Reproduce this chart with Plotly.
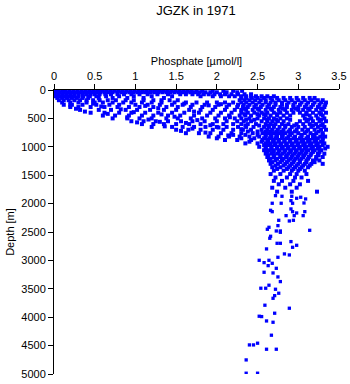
import plotly.graph_objects as go

# Upper-ocean rows: depth [m] and phosphate [umol/l] values
row_depths = [15, 40, 75, 110, 140, 180, 220, 260, 300, 350, 400, 450, 500, 550, 600,
              650, 700, 760, 820, 880, 940, 1000, 1060, 1120, 1180, 1240, 1300, 1360,
              1420, 1480, 1540, 1600, 1660, 1720, 1790]
row_phosphate = [
    [0.01,0.05,0.1,0.14,0.19,0.24,0.29,0.34,0.39,0.44,0.49,0.54,0.59,0.64,0.69,0.74,0.79,0.84,0.89,0.94,0.99,1.04,1.09,1.14,1.19,1.24,1.29,1.34,1.39,1.44,1.49,1.54,1.59,1.64,1.69,1.75,1.82,1.95,2.08,2.2,2.31],
    [0.02,0.07,0.12,0.17,0.22,0.27,0.32,0.37,0.42,0.47,0.52,0.57,0.62,0.67,0.72,0.78,0.83,0.88,0.93,0.98,1.03,1.08,1.13,1.18,1.23,1.28,1.33,1.38,1.43,1.48,1.53,1.58,1.63,1.68,1.73,1.79,1.86,1.92,2.0,2.12,2.25],
    [0.0,0.05,0.1,0.15,0.2,0.25,0.3,0.35,0.4,0.45,0.5,0.56,0.63,0.7,0.78,0.86,0.95,1.05,1.15,1.27,1.4,1.55,1.62,1.7,1.77,1.84,1.9,1.97,2.04,2.1,2.18,2.26,2.34,2.42],
    [0.02,0.08,0.13,0.18,0.24,0.3,0.36,0.44,0.52,0.64,0.8,0.98,1.2,1.45,1.8,1.95,2.05,2.15,2.22,2.3,2.36,2.42,2.48,2.55,2.62,2.7],
    [0.04,0.1,0.16,0.22,0.28,0.35,0.42,0.55,0.72,0.9,1.1,1.35,2.3,2.36,2.43,2.5,2.58,2.66,2.74,2.82,2.9,2.98,3.06,3.14,3.2],
    [0.06,0.12,0.18,0.25,0.32,0.4,0.48,0.56,0.66,0.76,0.88,0.98,1.1,1.22,1.32,1.42,1.52,2.28,2.34,2.4,2.47,2.54,2.6,2.68,2.76,2.84,2.92,3.0,3.08,3.16,3.24,3.3],
    [0.1,0.2,0.3,0.4,0.5,0.6,0.72,0.85,0.95,1.08,1.2,1.32,1.48,1.62,1.75,1.88,2.0,2.1,2.2,2.3,2.36,2.44,2.52,2.6,2.66,2.72,2.8,2.88,2.96,3.04,3.12,3.2,3.28,3.34],
    [0.12,0.22,0.35,0.52,0.68,0.8,1.0,1.15,1.3,1.45,1.58,1.7,1.85,2.02,2.15,2.26,2.33,2.4,2.48,2.56,2.64,2.72,2.8,2.86,2.94,3.02,3.1,3.18,3.26,3.33],
    [0.2,0.3,0.45,0.62,0.78,0.92,1.05,1.22,1.38,1.52,1.68,1.82,1.98,2.12,2.25,2.32,2.38,2.46,2.54,2.62,2.7,2.78,2.86,2.94,3.0,3.08,3.16,3.24,3.32],
    [0.32,0.55,0.7,0.88,1.02,1.18,1.35,1.5,1.66,1.8,1.95,2.1,2.22,2.3,2.36,2.44,2.52,2.6,2.68,2.76,2.84,2.92,3.0,3.06,3.14,3.22,3.3],
    [0.45,0.62,0.8,0.95,1.12,1.28,1.45,1.6,1.78,1.92,2.05,2.18,2.3,2.38,2.46,2.55,2.62,2.7,2.78,2.86,2.94,3.02,3.1,3.18,3.26,3.34],
    [0.6,0.75,0.92,1.08,1.22,1.4,1.55,1.72,1.88,2.02,2.15,2.28,2.35,2.42,2.52,2.6,2.66,2.74,2.82,2.9,3.06,3.14,3.22,3.3],
    [0.72,0.9,1.05,1.2,1.38,1.52,1.68,1.82,1.98,2.1,2.22,2.3,2.4,2.5,2.58,2.64,2.7,2.78,2.86,3.08,3.16,3.24,3.32],
    [0.95,1.1,1.25,1.4,1.56,1.7,1.85,2.0,2.12,2.25,2.33,2.42,2.55,2.62,2.68,2.75,2.82,3.02,3.1,3.18,3.26,3.34],
    [1.08,1.22,1.35,1.5,1.66,1.8,1.95,2.08,2.2,2.3,2.38,2.48,2.6,2.66,2.72,2.8,2.88,2.98,3.06,3.14,3.22,3.3],
    [1.2,1.45,1.58,1.72,1.86,2.0,2.12,2.26,2.36,2.45,2.58,2.64,2.7,2.77,2.84,2.92,3.0,3.08,3.16,3.24,3.32],
    [1.5,1.65,1.8,1.95,2.08,2.2,2.32,2.42,2.55,2.62,2.68,2.75,2.82,2.9,2.98,3.05,3.12,3.2,3.28,3.34],
    [1.62,1.78,1.92,2.05,2.18,2.3,2.44,2.56,2.63,2.7,2.77,2.84,2.92,3.0,3.08,3.15,3.22,3.3],
    [1.9,2.02,2.15,2.28,2.4,2.52,2.6,2.67,2.74,2.81,2.88,2.96,3.04,3.12,3.2,3.27,3.33],
    [2.1,2.25,2.42,2.56,2.62,2.69,2.76,2.83,2.9,2.98,3.06,3.14,3.22,3.3],
    [2.35,2.5,2.6,2.66,2.72,2.79,2.86,2.93,3.0,3.08,3.16,3.24,3.32],
    [2.52,2.6,2.67,2.74,2.81,2.88,2.95,3.02,3.1,3.18,3.26,3.36],
    [2.58,2.64,2.7,2.77,2.84,2.91,2.98,3.05,3.12,3.2,3.28],
    [2.6,2.67,2.74,2.81,2.88,2.95,3.02,3.09,3.16,3.24,3.32],
    [2.62,2.7,2.78,2.85,2.92,2.99,3.06,3.13,3.22,3.3],
    [2.64,2.72,2.8,2.88,2.95,3.02,3.1,3.18,3.26],
    [2.66,2.75,2.84,2.92,3.0,3.08,3.16,3.3],
    [2.68,2.78,2.88,2.96,3.04,3.12],
    [2.7,2.82,2.92,3.0,3.08],
    [2.66,2.78,2.9,2.98,3.1],
    [2.72,2.86,2.96,3.04],
    [2.7,2.8,2.94,3.12],
    [2.76,2.9,3.02],
    [2.68,2.84,2.98],
    [2.74,2.92,3.23],
]

# Staggered rows inside the dense deep-water core
core_depths = [330, 425, 525, 625, 730, 790, 850, 910, 970, 1030, 1090, 1150, 1210, 1270, 1330, 1390]
core_phosphate = [
    [2.34,2.5,2.66,2.81,2.97,3.12,3.28],
    [2.34,2.5,2.58,2.74,3.1,3.28],
    [2.36,2.46,2.62,2.73,2.9,3.12,3.28],
    [2.35,2.52,2.63,2.7,2.84,2.95,3.18,3.28],
    [2.38,2.5,2.6,2.66,2.73,2.8,2.88,2.96,3.1,3.25],
    [2.2,2.35,2.5,2.6,2.66,2.73,2.8,2.9,3.04,3.18,3.3],
    [2.0,2.3,2.46,2.58,2.65,2.72,2.8,2.86,2.94,3.02,3.1,3.18,3.24,3.3],
    [2.4,2.55,2.63,2.7,2.76,2.83,2.9,2.97,3.04,3.12,3.2,3.28],
    [2.58,2.64,2.71,2.78,2.85,2.92,2.99,3.06,3.14,3.22,3.3],
    [2.6,2.67,2.74,2.8,2.87,2.94,3.01,3.08,3.16,3.24,3.33],
    [2.62,2.69,2.76,2.83,2.9,2.97,3.04,3.1,3.18,3.26],
    [2.63,2.7,2.78,2.86,2.93,3.0,3.07,3.15,3.25],
    [2.66,2.74,2.82,2.9,2.97,3.04,3.12,3.22],
    [2.68,2.78,2.86,2.94,3.02,3.1,3.2],
    [2.72,2.82,2.9,2.98,3.06,3.14],
    [2.74,2.86,2.94,3.02],
]

# Scattered samples in the sloping intermediate band
mid_phosphate = [0.2,0.27,0.48,0.58,0.82,1.12,1.28,1.6,1.9,2.05,0.38,0.66,0.98,1.32,1.72,
                 0.9,1.16,1.48,1.76,2.16,1.02,1.3,1.62,1.92,1.36,1.7,2.02,2.3,1.56,1.86,2.14]
mid_depth = [270,330,240,290,340,280,320,240,270,250,380,420,390,430,380,
             480,520,470,530,480,570,560,580,620,640,680,660,690,720,750,800]

# Deep, sparse samples
deep_phosphate = [2.72,2.80,2.92,2.98,3.03,3.09,2.91,2.68,2.79,2.93,3.07,2.91,2.66,2.68,2.93,2.98,3.08,
                  2.85,2.95,3.06,2.76,2.89,2.94,2.75,2.64,2.62,2.73,2.78,2.78,3.14,2.66,2.65,2.91,2.74,
                  2.78,2.93,2.98,2.61,2.83,2.89,2.75,2.52,2.64,2.58,2.68,2.63,2.73,2.58,2.69,2.75,2.78,
                  2.64,2.54,2.60,2.72,2.76,2.71,2.69,2.59,2.89,2.71,2.52,2.55,2.61,2.69,2.67,2.50,2.40,
                  2.45,2.61,2.73,2.36,2.36,2.50]
deep_depth = [1860,1871,1871,1906,1888,1918,1948,1994,1994,1994,1989,2094,2118,2142,2142,2165,2142,
              2212,2212,2212,2294,2306,2294,2388,2417,2452,2482,2482,2505,2470,2575,2610,2669,2699,
              2699,2769,2734,2798,2886,2904,2945,2998,2998,3039,3051,3092,3139,3209,3221,3291,3373,
              3437,3490,3490,3508,3578,3620,3667,3789,3842,3930,3983,3989,4066,4089,4317,4458,4488,
              4488,4564,4564,4752,4986,4986]

phosphate = []
depth = []
for rows_d, rows_p in ((row_depths, row_phosphate), (core_depths, core_phosphate)):
    for d, vals in zip(rows_d, rows_p):
        for v in vals:
            phosphate.append(v)
            depth.append(d)
phosphate += mid_phosphate
depth += mid_depth

x_ticks = [0, 0.5, 1, 1.5, 2, 2.5, 3, 3.5]
x_labels = ["0", "0.5", "1", "1.5", "2", "2.5", "3", "3.5"]
y_ticks = [0, 500, 1000, 1500, 2000, 2500, 3000, 3500, 4000, 4500, 5000]
y_labels = [str(t) for t in y_ticks]

font = "Liberation Sans, Arial, sans-serif"

fig = go.Figure()
fig.add_trace(go.Scatter(
    x=phosphate, y=depth, mode="markers",
    marker=dict(symbol="square", size=4, color="#0000ff", line=dict(width=0)),
    hoverinfo="skip",
))
fig.add_trace(go.Scatter(
    x=deep_phosphate, y=deep_depth, mode="markers",
    marker=dict(symbol="square", size=3.3, color="#0000ff", line=dict(width=0)),
    hoverinfo="skip",
))

fig.update_layout(
    width=350, height=384,
    margin=dict(l=54, r=11, t=90, b=10, autoexpand=False),
    paper_bgcolor="white", plot_bgcolor="white",
    showlegend=False,
    font=dict(family=font, size=11, color="black"),
    title=dict(text="JGZK in 1971", x=0.56, xanchor="center", y=0.972, yanchor="middle",
               font=dict(family=font, size=13, color="black")),
)
fig.update_xaxes(
    side="top", range=[0, 3.5], tickvals=x_ticks, ticktext=x_labels,
    ticks="outside", ticklen=5, tickwidth=1, tickcolor="black", automargin=False,
    showline=True, linecolor="black", linewidth=1, showgrid=False, zeroline=False,
    title=dict(text="Phosphate [µmol/l]", standoff=1, font=dict(size=11)),
    tickfont=dict(size=11),
)
fig.update_yaxes(
    range=[5000, 0], tickvals=y_ticks, ticktext=y_labels,
    ticks="outside", ticklen=5, tickwidth=1, tickcolor="black", automargin=False,
    showline=True, linecolor="black", linewidth=1, showgrid=False, zeroline=False,
    title=dict(text="Depth [m]", standoff=4, font=dict(size=11)),
    tickfont=dict(size=11),
)

fig.write_html("out.html")
